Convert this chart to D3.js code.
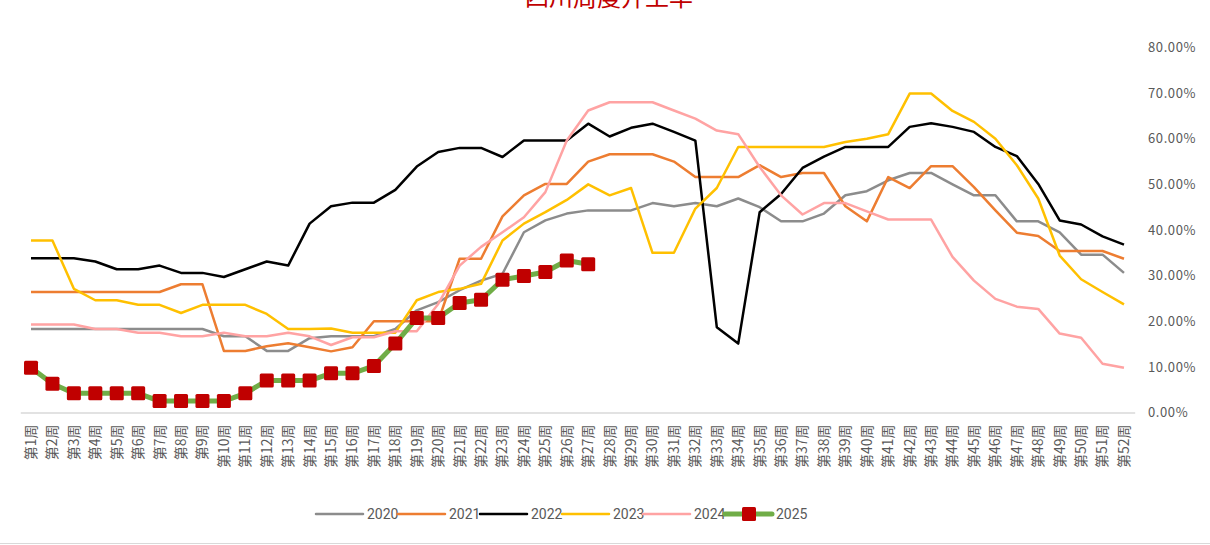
<!DOCTYPE html>
<html><head><meta charset="utf-8">
<script src="https://cdn.jsdelivr.net/npm/d3@7/dist/d3.min.js"></script>
<style>
html,body{margin:0;padding:0;background:#fff;}
svg{display:block;font-family:"Noto Sans CJK SC","Noto Sans",sans-serif;}
</style></head>
<body>
<svg id="c" width="1210" height="545"></svg>
<script>
const title = "四川周度开工率";
const weeks = d3.range(1, 53).map(i => "第" + i + "周");
const yTicks = [0, 0.1, 0.2, 0.3, 0.4, 0.5, 0.6, 0.7, 0.8];
const years = ["2020", "2021", "2022", "2023", "2024", "2025"];

const v2020 = [18.3,18.3,18.3,18.3,18.3,18.3,18.3,18.3,18.3,16.7,16.7,13.5,13.5,16.3,16.7,16.7,16.7,18.3,22.4,24.2,26.8,28.9,30.4,39.5,42.1,43.6,44.3,44.3,44.3,45.9,45.2,45.9,45.2,46.9,45.0,41.9,41.9,43.6,47.6,48.5,50.9,52.5,52.5,50.0,47.6,47.6,41.9,41.9,39.5,34.6,34.6,30.6];
const v2021 = [26.4,26.4,26.4,26.4,26.4,26.4,26.4,28.1,28.1,13.5,13.5,14.5,15.2,14.3,13.4,14.3,20.0,20.0,20.0,20.0,33.7,33.7,43.0,47.6,50.1,50.1,55.0,56.6,56.6,56.6,55.0,51.6,51.6,51.6,54.2,51.6,52.5,52.5,45.2,41.9,51.6,49.2,54.0,54.0,49.4,44.3,39.4,38.7,35.4,35.4,35.4,33.7];
const v2022 = [33.8,33.8,33.8,33.1,31.4,31.4,32.2,30.6,30.6,29.7,31.4,33.1,32.2,41.4,45.2,46.0,46.0,48.8,53.9,57.1,58.0,58.0,56.0,59.6,59.6,59.6,63.3,60.5,62.4,63.3,61.5,59.6,18.7,15.1,43.9,47.9,53.6,56.1,58.2,58.2,58.2,62.6,63.4,62.6,61.5,58.2,56.2,50.1,42.1,41.2,38.6,36.8];
const v2023 = [37.7,37.7,27.1,24.6,24.6,23.6,23.6,21.8,23.6,23.6,23.6,21.6,18.3,18.3,18.4,17.5,17.5,17.5,24.6,26.4,27.1,28.2,37.7,41.4,43.9,46.6,50.0,47.6,49.2,35.0,35.0,44.7,49.2,58.2,58.2,58.2,58.2,58.2,59.3,60.0,61.0,69.9,69.9,66.1,63.7,60.0,54.2,46.9,34.4,29.2,26.4,23.7];
const v2024 = [19.3,19.3,19.3,18.3,18.3,17.5,17.5,16.7,16.7,17.5,16.7,16.7,17.5,16.7,14.8,16.5,16.5,17.8,17.8,23.8,32.2,36.3,39.5,42.8,48.3,59.6,66.2,68.0,68.0,68.0,66.2,64.4,61.8,61.0,53.8,47.6,43.4,45.9,45.9,44.1,42.3,42.3,42.3,34.1,28.9,24.9,23.2,22.7,17.3,16.4,10.7,9.8];
const v2025 = [9.8,6.3,4.2,4.2,4.2,4.2,2.5,2.5,2.5,2.5,4.2,7.0,7.0,7.0,8.6,8.6,10.2,15.1,20.7,20.7,24.0,24.7,29.1,29.9,30.8,33.3,32.5];

const seriesValues = [v2020, v2021, v2022, v2023, v2024, v2025];
const colors = ["#8c8c8c", "#ED7D31", "#000000", "#FFC000", "#FFA3A3", "#70AD47"];

const svg = d3.select("#c");
const x = d3.scaleBand().domain(weeks).range([20.3, 1134.7]).padding(0);
const cx = d => x(d) + x.bandwidth() / 2;
const y = d3.scaleLinear().domain([0, 0.8]).range([412.5, 47.5]);

// title (clipped at top like reference)
svg.append("text").attr("x", 609).attr("y", 6).attr("text-anchor", "middle")
  .attr("fill", "#C00000").attr("font-size", 24).text(title);

// x axis
const gx = svg.append("g").attr("transform", `translate(0,${y(0)})`)
  .call(d3.axisBottom(x).tickSize(0).tickSizeOuter(0));
gx.select(".domain").attr("stroke", "#d9d9d9").attr("stroke-width", 1.5);
gx.selectAll(".tick text").attr("transform", "rotate(-90)")
  .attr("text-anchor", "end").attr("x", -12).attr("y", 0).attr("dy", "0.35em")
  .attr("fill", "#595959").attr("font-size", 14)
  .attr("font-family", '"Noto Sans CJK SC",sans-serif');

// y axis on right
const gy = svg.append("g").attr("transform", "translate(1135,0)")
  .call(d3.axisRight(y).tickValues(yTicks).tickSize(0).tickFormat(d3.format(".2%")));
gy.select(".domain").remove();
gy.selectAll(".tick text").attr("x", 13).attr("fill", "#595959").attr("font-size", 13)
  .attr("letter-spacing", 0.6)
  .attr("font-family", '"Noto Sans CJK SC",sans-serif');

const line = d3.line().x((d, i) => cx(weeks[i])).y(d => y(d / 100));

seriesValues.forEach((vals, k) => {
  svg.append("path").datum(vals).attr("d", line).attr("fill", "none")
    .attr("stroke", colors[k]).attr("stroke-width", k === 5 ? 5 : 2.5)
    .attr("stroke-linejoin", "round");
});
// 2025 markers
svg.append("g").selectAll("rect").data(v2025).join("rect")
  .attr("x", (d, i) => cx(weeks[i]) - 7).attr("y", d => y(d / 100) - 7)
  .attr("width", 14).attr("height", 14).attr("rx", 1.5)
  .attr("fill", "#C00000");

// legend
const legStarts = [316, 398, 480, 562, 643, 725];
const lg = svg.append("g").attr("transform", "translate(0,514)");
years.forEach((yr, k) => {
  const g = lg.append("g").attr("transform", `translate(${legStarts[k]},0)`);
  g.append("line").attr("x1", 0).attr("x2", 47).attr("y1", 0).attr("y2", 0)
    .attr("stroke", colors[k]).attr("stroke-width", k === 5 ? 5 : 2.5).attr("stroke-linecap", "round");
  if (k === 5) g.append("rect").attr("x", 17).attr("y", -7).attr("width", 14).attr("height", 14).attr("rx", 1.5).attr("fill", "#C00000");
  g.append("text").attr("x", 51).attr("y", 0).attr("dy", "0.35em")
    .attr("fill", "#595959").attr("font-size", 14).attr("font-family", "Roboto,sans-serif").text(yr);
});

// bottom border line
svg.append("line").attr("x1", 0).attr("x2", 1210).attr("y1", 543.5).attr("y2", 543.5)
  .attr("stroke", "#d9d9d9").attr("stroke-width", 1);
</script>
</body></html>
